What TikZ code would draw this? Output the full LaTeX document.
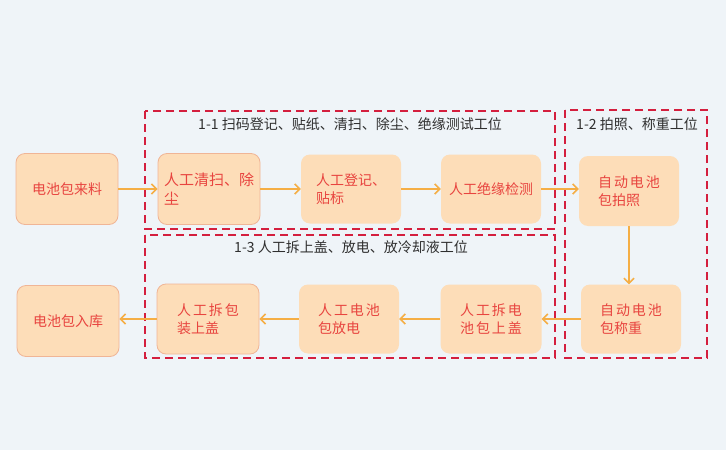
\documentclass[tikz,border=0pt]{standalone}
\usepackage{fontspec}
\setmainfont{Noto Sans CJK SC}
\newfontfamily\cjk{Noto Sans CJK SC}
\newfontfamily\cjksp[LetterSpace=14]{Noto Sans CJK SC}
\usetikzlibrary{arrows.meta}
\definecolor{bgc}{HTML}{EFF4F8}
\definecolor{boxfill}{HTML}{FDDDB8}
\definecolor{boxedge}{HTML}{F0B596}
\definecolor{txtred}{HTML}{E8443F}
\definecolor{arrowc}{HTML}{F5AE45}
\definecolor{dashred}{HTML}{D41F3E}
\definecolor{labgray}{HTML}{2F2F2F}
\tikzset{
  procbox/.style={rectangle, rounded corners=9pt, fill=boxfill, draw=none,
    minimum width=100pt, minimum height=69pt, text=txtred,
    font=\cjk\fontsize{14}{18.5}\selectfont, align=left, inner sep=2pt},
  edged/.style={draw=boxedge, line width=0.8pt},
  flow/.style={draw=arrowc, line width=1.6pt, -{Straight Barb[length=5pt,width=10pt,line width=1.6pt]}},
  zone/.style={draw=dashred, line width=2pt, dash pattern=on 8pt off 5pt},
  zonelabel/.style={text=labgray, font=\cjk\fontsize{14}{16}\selectfont, inner sep=0pt}
}
\begin{document}
\begin{tikzpicture}[x=1pt,y=-1pt]
\useasboundingbox (0,0) rectangle (726,450);
\fill[bgc] (0,0) rectangle (726,450);

% zones
\draw[zone] (145,111) rectangle (555,229);
\draw[zone] (145,235) rectangle (555,358);
\draw[zone] (565,110) rectangle (707,358);
\node[zonelabel] (l11) at (350,124) {1-1 扫码登记、贴纸、清扫、除尘、绝缘测试工位};
\node[zonelabel] (l12) at (637,124) {1-2 拍照、称重工位};
\node[zonelabel] (l13) at (351,247) {1-3 人工拆上盖、放电、放冷却液工位};

% row 1
\node[procbox, edged, minimum width=102pt, minimum height=71pt] (A) at (67,189) {电池包来料};
\node[procbox, edged, minimum width=102pt, minimum height=71pt, font=\cjk\fontsize{15}{19}\selectfont] (B) at (209,189) {人工清扫、除\\尘};
\node[procbox] (C) at (351,189) {人工登记、\\贴标\hspace{3em}};
\node[procbox] (D) at (491,189) {人工绝缘检测};
\node[procbox, minimum height=70pt] (E) at (629,191) {{\cjksp 自动电池}\\包拍照};

% row 2
\node[procbox] (F) at (631,319) {{\cjksp 自动电池}\\包称重};
\node[procbox, minimum width=101pt] (G) at (491,319) {{\cjksp 人工拆电}\\{\cjksp 池包上盖}};
\node[procbox] (H) at (349,319) {{\cjksp 人工电池}\\包放电};
\node[procbox, edged, minimum width=102pt, minimum height=70pt] (I) at (208,319) {{\cjksp 人工拆包}\\装上盖};
\node[procbox, edged, minimum width=102pt, minimum height=71pt] (J) at (68,321) {电池包入库};

% arrows
\draw[flow] (A.east) -- (B.west);
\draw[flow] (B.east) -- (C.west);
\draw[flow] (C.east) -- (D.west);
\draw[flow] (D.east) -- (D.east -| E.west);
\draw[flow] (E.south) -- (F.north -| E.south);
\draw[flow] (F.west) -- (F.west -| G.east);
\draw[flow] (G.west) -- (H.east |- G.west);
\draw[flow] (H.west) -- (I.east |- H.west);
\draw[flow] (I.west) -- (J.east |- I.west);
\end{tikzpicture}
\end{document}
